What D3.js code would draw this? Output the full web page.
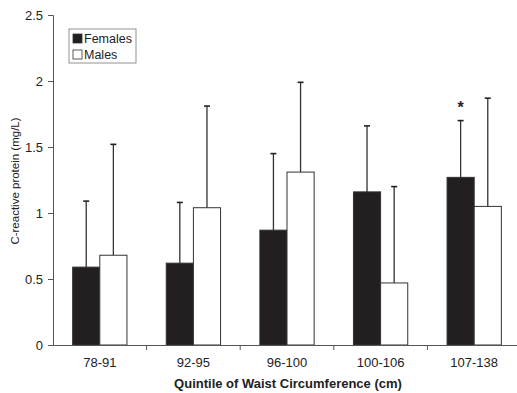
<!DOCTYPE html>
<html>
<head>
<meta charset="utf-8">
<script src="https://cdn.jsdelivr.net/npm/d3@7"></script>
<style>
  body { margin: 0; background: #fff; }
  svg text { font-family: "Liberation Sans", Arial, sans-serif; fill: #222; }
</style>
</head>
<body>
<svg id="chart" width="517" height="393"></svg>
<script>
// Data
const quintiles = ['78-91', '92-95', '96-100', '100-106', '107-138'];
const females = [0.59, 0.62, 0.87, 1.16, 1.27];
const femalesErr = [1.09, 1.08, 1.45, 1.66, 1.70]; // top of error bar
const males = [0.68, 1.04, 1.31, 0.47, 1.05];
const malesErr = [1.52, 1.81, 1.99, 1.20, 1.87];
const yTicks = [0, 0.5, 1, 1.5, 2, 2.5];
const starred = ['107-138']; // females significant

const svg = d3.select('#chart');
const margin = { left: 53, top: 15, right: -4, bottom: 48 };
const width = 517 - margin.left - margin.right;
const height = 393 - margin.top - margin.bottom;
const g = svg.append('g').attr('transform', `translate(${margin.left},${margin.top})`);

const x = d3.scaleBand().domain(quintiles).range([0, width]);
const y = d3.scaleLinear().domain([0, 2.5]).range([height, 0]);

const series = [
  { key: 'Females', vals: females, err: femalesErr, fill: '#231f20' },
  { key: 'Males', vals: males, err: malesErr, fill: '#fff' }
];
const barW = x.bandwidth() * 0.29;
const sub = d3.scaleBand().domain(series.map((s) => s.key))
  .range([x.bandwidth() / 2 - barW, x.bandwidth() / 2 + barW]);

// bars + error bars (upper only)
series.forEach((s) => {
  const grp = g.append('g');
  const cx = (d) => x(d) + sub(s.key) + sub.bandwidth() / 2;
  grp.selectAll('line.err')
    .data(quintiles)
    .join('line')
    .attr('x1', cx).attr('x2', cx)
    .attr('y1', (d, i) => y(s.vals[i]))
    .attr('y2', (d, i) => y(s.err[i]))
    .attr('stroke', '#333').attr('stroke-width', 1.3);
  grp.selectAll('line.cap')
    .data(quintiles)
    .join('line')
    .attr('x1', (d) => cx(d) - 3).attr('x2', (d) => cx(d) + 3)
    .attr('y1', (d, i) => y(s.err[i]))
    .attr('y2', (d, i) => y(s.err[i]))
    .attr('stroke', '#222').attr('stroke-width', 1.6);
  grp.selectAll('rect')
    .data(quintiles)
    .join('rect')
    .attr('x', (d) => x(d) + sub(s.key))
    .attr('width', sub.bandwidth())
    .attr('y', (d, i) => y(s.vals[i]))
    .attr('height', (d, i) => y(0) - y(s.vals[i]))
    .attr('fill', s.fill)
    .attr('stroke', '#333').attr('stroke-width', 1);
});

// significance marker
g.selectAll('text.star')
  .data(starred)
  .join('text')
  .attr('x', (d) => x(d) + sub('Females') + sub.bandwidth() / 2)
  .attr('y', (d) => y(femalesErr[quintiles.indexOf(d)]) - 8)
  .attr('text-anchor', 'middle')
  .style('font-size', '16px').style('font-weight', 'bold')
  .text('*');

// axes
const yAxis = g.append('g')
  .call(d3.axisLeft(y).tickValues(yTicks).tickSize(5).tickFormat(d3.format('')));
yAxis.selectAll('text').style('font-size', '13px').attr('dx', '-2');

const xAxis = g.append('g').attr('transform', `translate(0,${height})`)
  .call(d3.axisBottom(x).tickSize(0).tickPadding(13));
xAxis.selectAll('text').style('font-size', '13px');
// ticks between categories
xAxis.selectAll('line.sep')
  .data(quintiles.slice(1))
  .join('line')
  .attr('x1', (d) => x(d)).attr('x2', (d) => x(d))
  .attr('y1', 0).attr('y2', 5)
  .attr('stroke', '#555');

svg.selectAll('.domain').attr('stroke', '#555');
svg.selectAll('.tick line').attr('stroke', '#555');

// axis titles
svg.append('text')
  .attr('transform', `translate(19,${margin.top + height / 2 + 1}) rotate(-90)`)
  .attr('text-anchor', 'middle')
  .style('font-size', '11.5px')
  .text('C-reactive protein (mg/L)');

svg.append('text')
  .attr('x', 288).attr('y', 388)
  .attr('text-anchor', 'middle')
  .style('font-size', '13px').style('font-weight', 'bold')
  .text('Quintile of Waist Circumference (cm)');

// legend
const lg = svg.append('g').attr('transform', 'translate(69,29)');
lg.append('rect').attr('width', 67).attr('height', 34)
  .attr('fill', '#fff').attr('stroke', '#777').attr('stroke-width', 0.8);
series.forEach((s, i) => {
  lg.append('rect')
    .attr('x', 4).attr('y', 5 + i * 16).attr('width', 9).attr('height', 9)
    .attr('fill', s.fill).attr('stroke', '#333').attr('stroke-width', 0.8);
  lg.append('text')
    .attr('x', 15).attr('y', 14 + i * 16)
    .style('font-size', '12.5px')
    .text(s.key);
});
</script>
</body>
</html>
